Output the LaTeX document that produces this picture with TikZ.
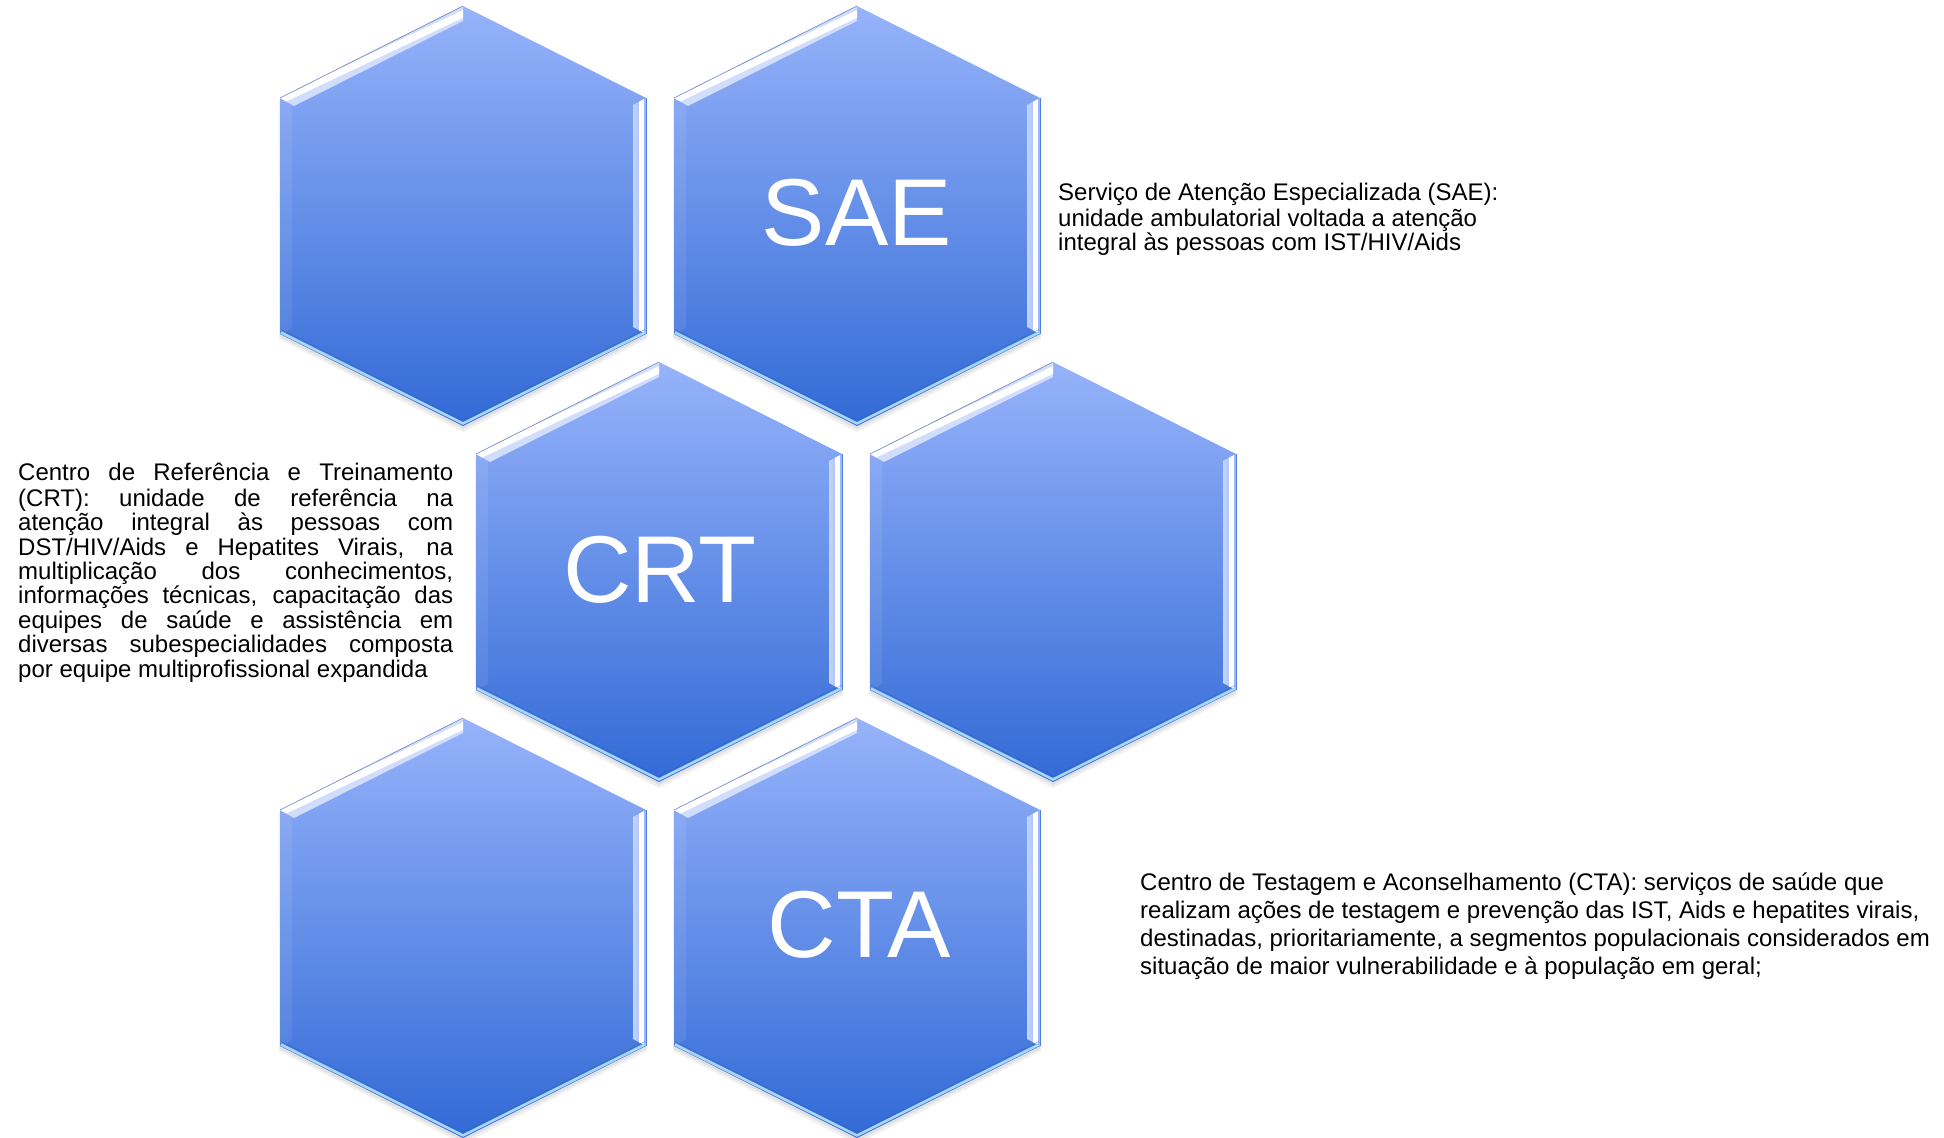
\documentclass[tikz,border=0pt]{standalone}
\usepackage{fontspec}
\setmainfont{Liberation Sans}
\definecolor{hextop}{RGB}{150,179,250}
\definecolor{hexbot}{RGB}{50,106,214}
\definecolor{hexedge}{RGB}{168,214,255}
\tikzset{
  hexpic/.pic={
    % soft shadow
    \fill[black, opacity=0.06] (-184,-114) -- (0,-206) -- (184,-114) -- (184,123) -- (0,216) -- (-184,123) -- cycle;
    \fill[black, opacity=0.06] (-183,-116) -- (0,-208) -- (183,-116) -- (183,121) -- (0,213) -- (-183,121) -- cycle;
    % body
    \shade[top color=hextop, bottom color=hexbot] (-183,-118) -- (0,-210) -- (183,-118) -- (183,118) -- (0,210) -- (-183,118) -- cycle;
    % left lighter band
    \fill[white, opacity=0.08] (-183,-118) -- (-171,-111) -- (-171,112) -- (-183,118) -- cycle;
    % upper-left bevel
    \begin{scope}
      \clip (-183,-118) -- (0,-210) -- (0,-195) -- (-169,-110) -- cycle;
      \fill[white!55!hextop] (-190,-215) rectangle (5,-100);
      \draw[white, line width=7] (-185,-114.5) -- (2,-203);
    \end{scope}
    \draw[hextop!75!black, line width=0.6] (-183,-118) -- (0,-210);
    % right bevel
    \begin{scope}
      \clip (183,-118) -- (183,118) -- (170,111) -- (170,-111) -- cycle;
      \shade[left color=white!45!hextop, right color=hextop] (169,-120) rectangle (184,120);
      \draw[white, line width=5] (178,-120) -- (178,120);
    \end{scope}
    \draw[hexbot!70!hextop, line width=0.8] (183,-118) -- (183,118);
    % lower edges highlight
    \draw[hexedge, line width=2.6, line join=miter] (-182,116.5) -- (0,207.5) -- (182,116.5);
    \draw[hexbot!85!black, line width=0.6, opacity=0.5] (-182,113.5) -- (0,204.5) -- (182,113.5);
  },
  biglabel/.style={text=white, font=\fontsize{95}{95}\selectfont, inner sep=0pt, anchor=base},
  desc/.style={text=black, inner sep=0pt, anchor=north west, align=left},
  hexcenter/.style={inner sep=0pt, minimum size=0pt}
}
\begin{document}
\begin{tikzpicture}[x=1pt, y=-1pt]
\useasboundingbox (0,0) rectangle (1944,1138);
\fill[white] (0,0) rectangle (1944,1138);

% hexagons
\pic at (463,216) {hexpic};
\pic at (857,216) {hexpic};
\pic at (659,572) {hexpic};
\pic at (1053,572) {hexpic};
\pic at (463,928) {hexpic};
\pic at (857,928) {hexpic};

\node[hexcenter] (h1) at (463,216) {};
\node[hexcenter] (hSAE) at (857,216) {};
\node[hexcenter] (hCRT) at (659,572) {};
\node[hexcenter] (h4) at (1053,572) {};
\node[hexcenter] (h5) at (463,928) {};
\node[hexcenter] (hCTA) at (857,928) {};

% big labels
\node[biglabel] (lSAE) at (857,245) {SAE};
\node[biglabel] (lCRT) at (660,602) {CRT};
\node[biglabel] (lCTA) at (859,957) {CTA};

% descriptions
\node[desc, font=\fontsize{24}{24.6}\selectfont] (dSAE) at (1058,182.8)
  {\strut Serviço de Atenção Especializada (SAE):\\
   unidade ambulatorial voltada a atenção\\
   integral às pessoas com IST/HIV/Aids};

\node[desc, font=\fontsize{24}{24.4}\selectfont] (dCRT) at (18,462.9)
  {\strut\makebox[435pt][s]{Centro de Referência e Treinamento}\\
   \makebox[435pt][s]{(CRT): unidade de referência na}\\
   \makebox[435pt][s]{atenção integral às pessoas com}\\
   \makebox[435pt][s]{DST/HIV/Aids e Hepatites Virais, na}\\
   \makebox[435pt][s]{multiplicação dos conhecimentos,}\\
   \makebox[435pt][s]{informações técnicas, capacitação das}\\
   \makebox[435pt][s]{equipes de saúde e assistência em}\\
   \makebox[435pt][s]{diversas subespecialidades composta}\\
   por equipe multiprofissional expandida};

\node[desc, font=\fontsize{24}{28}\selectfont] (dCTA) at (1140,870.4)
  {\strut Centro de Testagem e Aconselhamento (CTA): serviços de saúde que\\
   realizam ações de testagem e prevenção das IST, Aids e hepatites virais,\\
   destinadas, prioritariamente, a segmentos populacionais considerados em\\
   situação de maior vulnerabilidade e à população em geral;};
\end{tikzpicture}
\end{document}
